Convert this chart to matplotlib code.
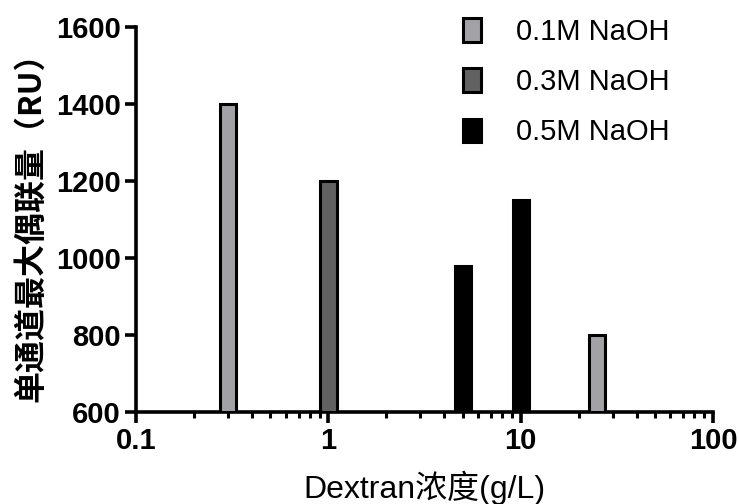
import numpy as np
import matplotlib
matplotlib.use("Agg")
import matplotlib.pyplot as plt
from matplotlib.ticker import LogLocator, NullFormatter
from matplotlib.patches import Patch

plt.rcParams['font.family'] = ['Liberation Sans', 'Noto Sans CJK SC', 'DejaVu Sans']

# data
conc = [0.3, 1, 5, 10, 25]
coupling = [1400, 1200, 980, 1150, 800]
group = ['0.1M NaOH', '0.3M NaOH', '0.5M NaOH', '0.5M NaOH', '0.1M NaOH']
labels = ['0.1M NaOH', '0.3M NaOH', '0.5M NaOH']
colors = {'0.1M NaOH': '#a2a2a6', '0.3M NaOH': '#626262', '0.5M NaOH': '#000000'}

fig = plt.figure(figsize=(7.39, 5.04), dpi=100)
ax = fig.add_axes([0.184, 0.183, 0.781, 0.763])

# bars of constant width in log space
w = 0.085
for x, y, g in zip(conc, coupling, group):
    left = x * 10 ** (-w / 2)
    right = x * 10 ** (w / 2)
    ax.bar(left, y - 600, width=right - left, bottom=600, align='edge',
           color=colors[g], edgecolor='black', linewidth=2.2, zorder=3)

ax.set_xscale('log')
ax.set_xlim(0.1, 100)
ax.set_ylim(600, 1600)
ax.set_yticks([600, 800, 1000, 1200, 1400, 1600])
ax.set_xticks([0.1, 1, 10, 100])
ax.set_xticklabels(['0.1', '1', '10', '100'])
ax.xaxis.set_minor_locator(LogLocator(base=10, subs=np.arange(2, 10)))
ax.xaxis.set_minor_formatter(NullFormatter())

for s in ['top', 'right']:
    ax.spines[s].set_visible(False)
for s in ['left', 'bottom']:
    ax.spines[s].set_linewidth(2.6)

ax.tick_params(axis='both', which='major', direction='out', length=8, width=2.6,
               labelsize=21, pad=3)
ax.tick_params(axis='x', which='minor', direction='out', length=4.5, width=2.2)
for t in ax.get_xticklabels() + ax.get_yticklabels():
    t.set_fontweight('bold')

ax.set_ylabel('单通道最大偶联量（RU）', fontsize=23, fontweight='bold',
              family=['Noto Sans CJK SC', 'DejaVu Sans'], labelpad=6)
ax.set_xlabel('Dextran浓度(g/L)', fontsize=23, labelpad=11)

# legend
handles = [Patch(facecolor=colors[l], edgecolor='black', linewidth=2.2) for l in labels]
fig.legend(handles, labels, loc='upper left', bbox_to_anchor=(463 / 739, 1 - 18 / 504),
           frameon=False, fontsize=21, handlelength=0.62, handleheight=0.85,
           handletextpad=1.2, labelspacing=0.76, borderpad=0, borderaxespad=0)

fig.savefig('out.png', dpi=100)
